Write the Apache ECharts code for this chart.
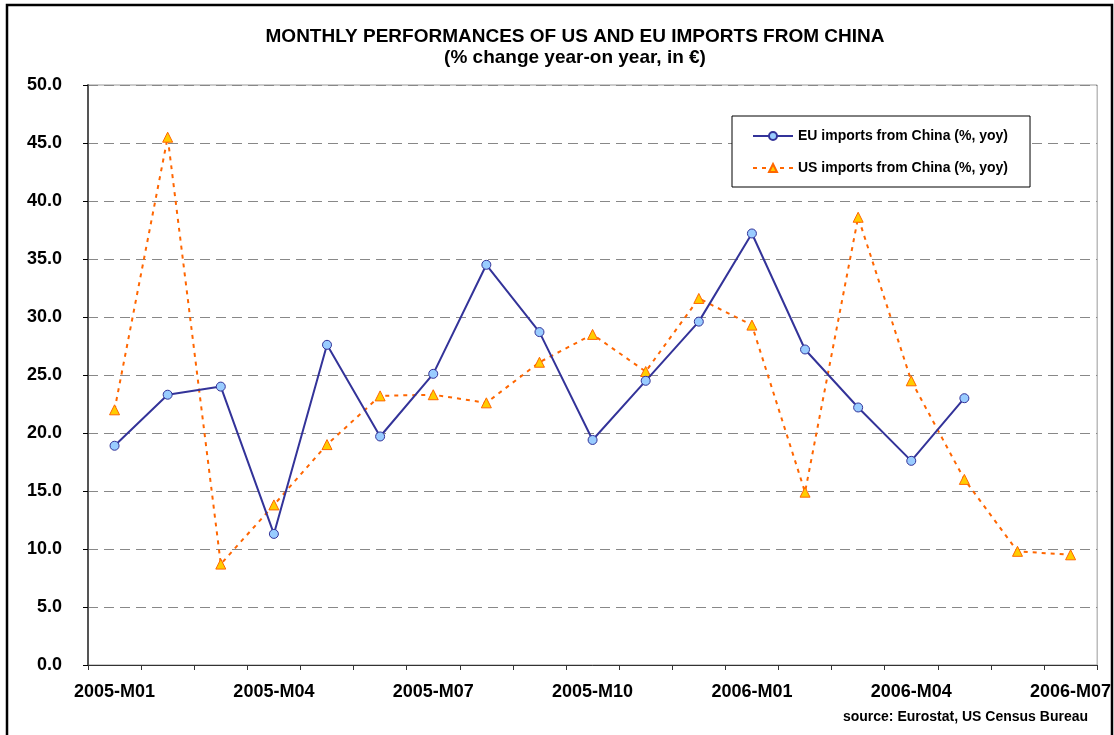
<!DOCTYPE html>
<html>
<head>
<meta charset="utf-8">
<script src="https://cdn.jsdelivr.net/npm/echarts@6/dist/echarts.min.js"></script>
<style>
  html, body { margin: 0; padding: 0; background: #fff; }
  #chart { width: 1114px; height: 735px; }
</style>
</head>
<body>
<div id="chart"></div>
<script>
const months = [
  '2005-M01', '2005-M02', '2005-M03', '2005-M04', '2005-M05', '2005-M06',
  '2005-M07', '2005-M08', '2005-M09', '2005-M10', '2005-M11', '2005-M12',
  '2006-M01', '2006-M02', '2006-M03', '2006-M04', '2006-M05', '2006-M06', '2006-M07'
];
const euImports = [18.9, 23.3, 24.0, 11.3, 27.6, 19.7, 25.1, 34.5, 28.7, 19.4, 24.5, 29.6, 37.2, 27.2, 22.2, 17.6, 23.0, null, null];
const usImports = [22.0, 45.5, 8.7, 13.8, 19.0, 23.2, 23.3, 22.6, 26.1, 28.5, 25.3, 31.6, 29.3, 14.9, 38.6, 24.5, 16.0, 9.8, 9.5];

const FONT = 'Arial, "Liberation Sans", sans-serif';

const chart = echarts.init(document.getElementById('chart'), null, { renderer: 'canvas' });

chart.setOption({
  backgroundColor: '#fff',
  animation: false,
  title: {
    text: 'MONTHLY PERFORMANCES OF US AND EU IMPORTS FROM CHINA',
    subtext: '(% change year-on year, in \u20ac)',
    left: 570,
    top: 22,
    textAlign: 'center',
    itemGap: 2,
    textStyle: { fontFamily: FONT, fontSize: 19, fontWeight: 'bold', color: '#000' },
    subtextStyle: { fontFamily: FONT, fontSize: 19, fontWeight: 'bold', color: '#000' }
  },
  legend: {
    orient: 'vertical',
    left: 732,
    top: 116,
    padding: [13, 22, 12, 20],
    itemGap: 18,
    itemWidth: 40,
    itemHeight: 10,
    backgroundColor: '#fff',
    borderColor: '#000',
    borderWidth: 1,
    textStyle: { fontFamily: FONT, fontSize: 14, fontWeight: 'bold', color: '#000' },
    data: ['EU imports from China (%, yoy)', 'US imports from China (%, yoy)']
  },
  grid: { left: 88, right: 12, top: 85, bottom: 70, show: true, borderColor: '#999', borderWidth: 1 },
  xAxis: {
    type: 'category',
    data: months,
    boundaryGap: true,
    axisLine: { lineStyle: { color: '#333', width: 1 } },
    axisTick: { show: true, alignWithLabel: false, interval: 0, length: 5, lineStyle: { color: '#333' } },
    axisLabel: {
      interval: 2,
      margin: 18,
      fontFamily: FONT, fontSize: 18, fontWeight: 'bold', color: '#000'
    },
    splitLine: { show: false }
  },
  yAxis: {
    type: 'value',
    min: 0,
    max: 50,
    interval: 5,
    axisLine: { show: true, lineStyle: { color: '#555', width: 2 } },
    axisTick: { show: true, inside: false, length: 5, lineStyle: { color: '#000' } },
    axisLabel: {
      margin: 26,
      formatter: v => v.toFixed(1),
      fontFamily: FONT, fontSize: 18, fontWeight: 'bold', color: '#000'
    },
    splitLine: { show: true, lineStyle: { color: '#888', type: [10, 6], width: 1 } }
  },
  series: [
    {
      name: 'EU imports from China (%, yoy)',
      type: 'line',
      data: euImports,
      symbol: 'circle',
      symbolSize: 9,
      lineStyle: { color: '#333399', width: 2 },
      itemStyle: { color: '#99CCFF', borderColor: '#333399', borderWidth: 1 },
      z: 3
    },
    {
      name: 'US imports from China (%, yoy)',
      type: 'line',
      data: usImports,
      symbol: 'triangle',
      symbolSize: 10,
      lineStyle: { color: '#FF6600', width: 2, type: [4, 5] },
      itemStyle: { color: '#FFCC00', borderColor: '#FF6600', borderWidth: 1 },
      z: 2
    }
  ],
  graphic: [
    {
      type: 'text',
      right: 26,
      top: 710,
      style: { text: 'source: Eurostat, US Census Bureau', font: 'bold 14px ' + FONT, fill: '#000' }
    },
    {
      type: 'rect',
      shape: { x: 7, y: 5, width: 1105, height: 740 },
      style: { fill: 'none', stroke: '#000', lineWidth: 2.5 },
      silent: true,
      z: 100
    }
  ]
});
</script>
</body>
</html>
